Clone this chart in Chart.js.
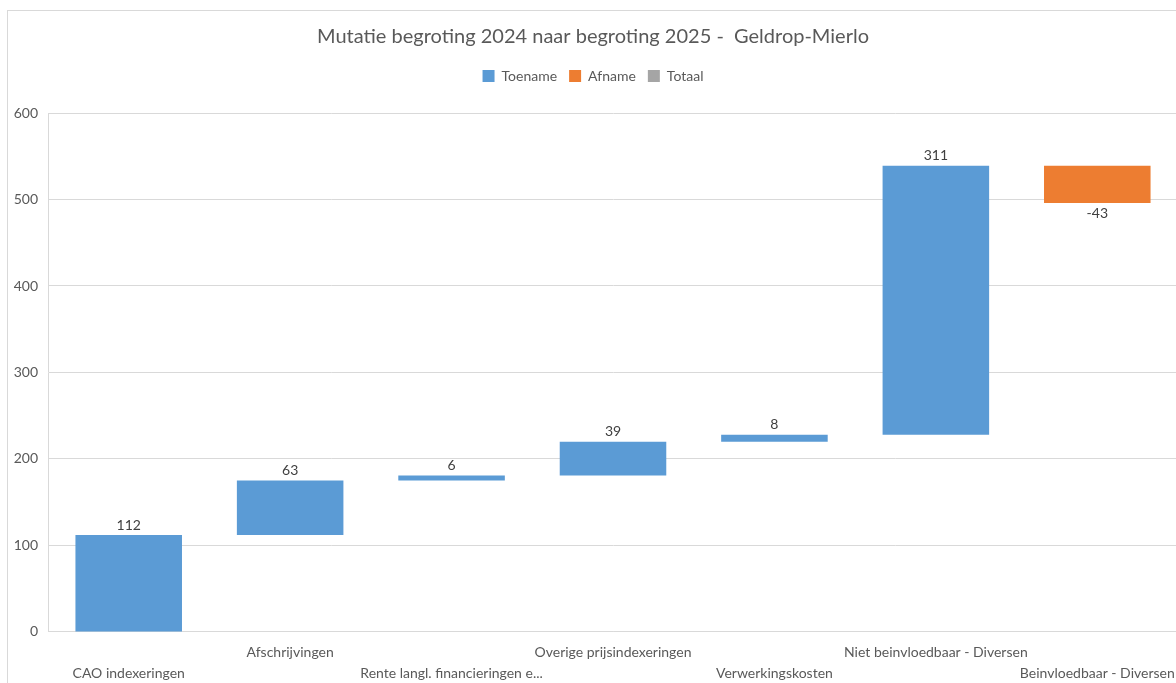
<!DOCTYPE html>
<html>
<head>
<meta charset="utf-8">
<script src="https://cdn.jsdelivr.net/npm/chart.js@4"></script>
<style>
  html, body { margin: 0; padding: 0; background: #fff; overflow: hidden; }
  #frame {
    position: absolute; left: 7px; top: 10px;
    width: 1190px; height: 690px;
    border: 1px solid #d9d9d9; box-sizing: border-box;
  }
</style>
</head>
<body>
<div id="frame"><canvas id="chart"></canvas></div>
<script>
const categories = [
    'CAO indexeringen',
    'Afschrijvingen',
    'Rente langl. financieringen e...',
    'Overige prijsindexeringen',
    'Verwerkingskosten',
    'Niet beinvloedbaar - Diversen',
    'Beinvloedbaar - Diversen'
];
const mutaties = [112, 63, 6, 39, 8, 311, -43];
const yTicks = [0, 100, 200, 300, 400, 500, 600];

// floating ranges for the waterfall
const toename = [];
const afname = [];
let running = 0;
mutaties.forEach(v => {
    const start = running;
    running += v;
    toename.push(v >= 0 ? [start, running] : null);
    afname.push(v < 0 ? [start, running] : null);
});

const textColor = '#595959';
const fontFamily = 'Lato, "Open Sans", sans-serif';

const valueLabels = {
    id: 'valueLabels',
    afterDatasetsDraw(chart) {
        const ctx = chart.ctx;
        ctx.save();
        ctx.font = '14px ' + fontFamily;
        ctx.fillStyle = '#404040';
        ctx.textAlign = 'center';
        ctx.textBaseline = 'middle';
        chart.data.datasets.forEach((ds, di) => {
            const meta = chart.getDatasetMeta(di);
            meta.data.forEach((bar, i) => {
                if (!ds.data[i]) return;
                const v = mutaties[i];
                const top = Math.min(bar.y, bar.base);
                const bottom = Math.max(bar.y, bar.base);
                if (v >= 0) ctx.fillText(String(v), bar.x, top - 10);
                else ctx.fillText(String(v), bar.x, bottom + 11);
            });
        });
        ctx.restore();
    }
};

// extra room between legend and plot
const legendGap = {
    id: 'legendGap',
    beforeInit(chart) {
        const fit = chart.legend.fit;
        chart.legend.fit = function() {
            fit.bind(chart.legend)();
            this.height += 20;
        };
    }
};

new Chart(document.getElementById('chart'), {
    type: 'bar',
    data: {
        labels: categories,
        datasets: [
            { label: 'Toename', data: toename, backgroundColor: '#5B9BD5', grouped: false },
            { label: 'Afname', data: afname, backgroundColor: '#ED7D31', grouped: false },
            { label: 'Totaal', data: categories.map(() => null), backgroundColor: '#A5A5A5', grouped: false }
        ]
    },
    options: {
        responsive: true,
        maintainAspectRatio: false,
        animation: false,
        datasets: { bar: { categoryPercentage: 1, barPercentage: 0.66 } },
        layout: { padding: { left: 0, right: 18, top: 10, bottom: 5 } },
        scales: {
            x: {
                grid: { display: false, drawTicks: false },
                border: { color: '#d9d9d9' },
                ticks: {
                    autoSkip: false,
                    maxRotation: 0,
                    minRotation: 0,
                    color: textColor,
                    font: { family: fontFamily, size: 14, lineHeight: 1.43 },
                    padding: 11,
                    callback: function(value, index) {
                        const name = categories[index];
                        return index % 2 === 0 ? ['', name] : [name, ''];
                    }
                }
            },
            y: {
                min: 0,
                max: 600,
                afterFit(scale) { scale.width = 40; },
                afterBuildTicks(scale) { scale.ticks = yTicks.map(v => ({ value: v })); },
                grid: { color: '#d9d9d9', drawTicks: false },
                border: { color: '#d9d9d9' },
                ticks: {
                    color: textColor,
                    font: { family: fontFamily, size: 14 },
                    padding: 10
                }
            }
        },
        plugins: {
            title: {
                display: true,
                text: 'Mutatie begroting 2024 naar begroting 2025 -  Geldrop-Mierlo',
                color: textColor,
                font: { family: fontFamily, size: 20, weight: 'normal' },
                padding: { top: 4, bottom: 8 }
            },
            legend: {
                display: true,
                labels: {
                    color: textColor,
                    font: { family: fontFamily, size: 14 },
                    boxWidth: 12,
                    boxHeight: 12,
                    padding: 12
                }
            },
            tooltip: { enabled: false }
        }
    },
    plugins: [valueLabels, legendGap]
});
</script>
</body>
</html>
